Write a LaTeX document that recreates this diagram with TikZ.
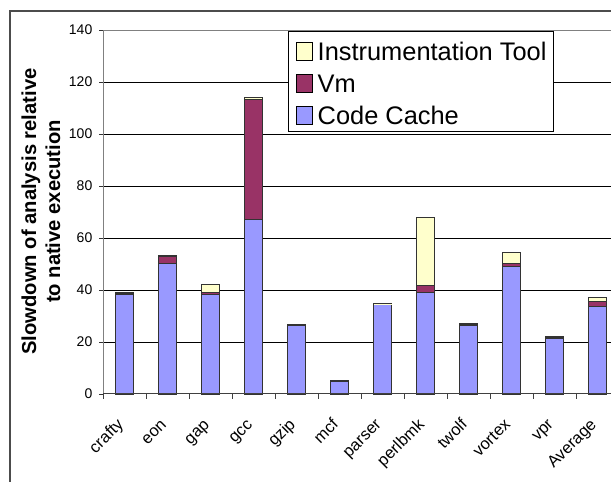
\documentclass[tikz,border=0pt]{standalone}
\usepackage{fontspec}
\setmainfont{Liberation Sans}
\definecolor{cc}{HTML}{9999FF}
\definecolor{vm}{HTML}{993366}
\definecolor{tool}{HTML}{FFFFCC}
\definecolor{axisgray}{HTML}{808080}
\tikzset{
  bar/.style={draw=black!80, line width=0.8pt},
  grid line/.style={draw=black, line width=0.8pt},
  ylab/.style={anchor=east, inner sep=0pt, font=\fontsize{14}{16}\selectfont},
  xlab/.style={anchor=east, inner sep=0pt, rotate=45, text height=11.8pt, text depth=3.5pt, font=\fontsize{16.5}{18}\selectfont},
  legtext/.style={anchor=base west, inner sep=0pt, font=\fontsize{25.4}{30}\selectfont},
  swatch/.style={draw=black, line width=0.9pt},
  frameline/.style={draw=black!70, line width=2pt}
}
\begin{document}
\begin{tikzpicture}[x=1pt,y=1pt]
\useasboundingbox (0,0) rectangle (611,482);
% outer chart frame (partly visible)
\draw[frameline] (9.7,0) -- (9.7,471) -- (611,471);
% plot area top border
\draw[draw=axisgray, line width=0.8pt] (103.3,452) -- (611,452);
% gridlines
\foreach \v in {20,40,...,120} {
  \draw[grid line] (103.3,88+2.6*\v) -- (611,88+2.6*\v);
}
% y ticks and labels
\foreach \v [count=\k] in {0,20,...,140} {
  \draw[draw=black!80, line width=0.8pt] (99,88+2.6*\v) -- (103.3,88+2.6*\v);
  \node[ylab] (ytick\k) at (92.5,88+2.6*\v) {\v};
}
% bars
\foreach \name/\c/\v/\t [count=\i from 0] in {crafty/38.2/0.6/0.1, eon/50.3/2.7/0.2, gap/38.3/0.8/2.9, gcc/67.2/46.1/0.8, gzip/26.2/0.5/0.1, mcf/4.7/0.4/0.1, parser/34.3/0.4/0.1, perlbmk/39.1/2.8/26.2, twolf/26.4/0.5/0.1, vortex/49.1/1.3/4.1, vpr/21.4/0.5/0.1, Average/33.6/1.9/1.7} {
  \pgfmathsetmacro\xc{103.3+43*(\i+0.5)}
  \pgfmathsetmacro\ya{88+2.6*\c}
  \pgfmathsetmacro\yb{\ya+2.6*\v}
  \pgfmathsetmacro\yc{\yb+2.6*\t}
  \draw[bar, fill=cc] (\xc-9,88) rectangle (\xc+9,\ya);
  \draw[bar, fill=vm] (\xc-9,\ya) rectangle (\xc+9,\yb);
  \draw[bar, fill=tool] (\xc-9,\yb) rectangle (\xc+9,\yc);
  \node[xlab] (xlab\i) at (\xc-3.5,59.5) {\name};
}
% axes
\draw[draw=axisgray, line width=1.2pt] (103.3,88) -- (103.3,452);
\draw[draw=black!75, line width=1pt] (103.3,88) -- (611,88);
\foreach \k in {0,...,11} {
  \draw[draw=black!75, line width=0.8pt] (103.3+43*\k,88) -- (103.3+43*\k,82.5);
}
% axis title
\node[align=center, rotate=90, inner sep=0pt, font=\bfseries\fontsize{20.2}{24}\selectfont] (ytitle) at (40.8,270.5) {Slowdown of analysis relative\\to native execution};
% legend
\node[draw=black, line width=0.9pt, fill=white, minimum width=265pt, minimum height=100pt, inner sep=0pt] (legend) at (420.5,401) {};
\draw[swatch, fill=tool] (296,421.3) rectangle (312,439.7);
\draw[swatch, fill=vm] (296,389.7) rectangle (312,407.3);
\draw[swatch, fill=cc] (296,357.7) rectangle (312,375.3);
\node[legtext] (legtool) at (317.5,421.3) {Instrumentation Tool};
\node[legtext] (legvm) at (317.5,389.7) {Vm};
\node[legtext] (legcc) at (317.5,357.7) {Code Cache};
\end{tikzpicture}
\end{document}
